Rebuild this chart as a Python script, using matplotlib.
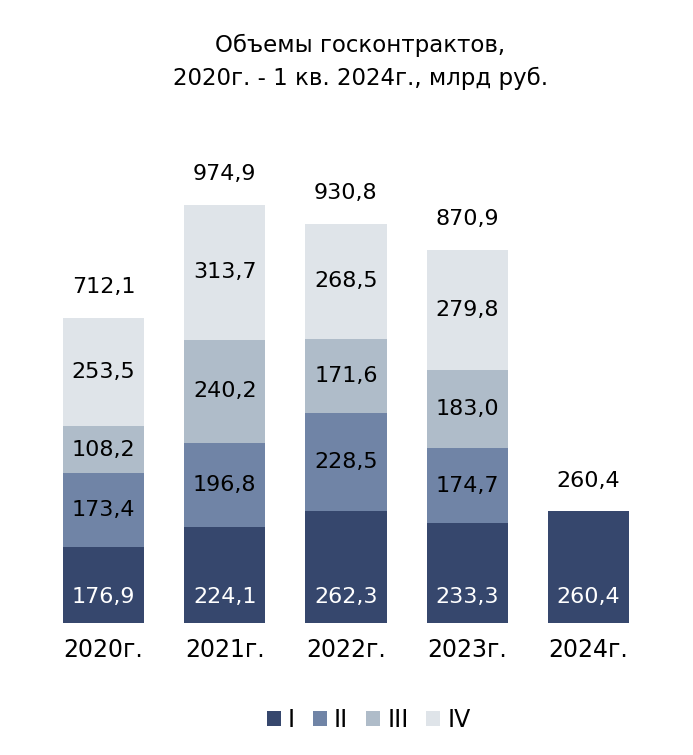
import matplotlib
matplotlib.use("Agg")
import matplotlib.pyplot as plt
import numpy as np

years = ["2020г.", "2021г.", "2022г.", "2023г.", "2024г."]
q1 = [176.9, 224.1, 262.3, 233.3, 260.4]
q2 = [173.4, 196.8, 228.5, 174.7, 0]
q3 = [108.2, 240.2, 171.6, 183.0, 0]
q4 = [253.5, 313.7, 268.5, 279.8, 0]
totals = [712.1, 974.9, 930.8, 870.9, 260.4]
series_names = ["I", "II", "III", "IV"]
colors = ["#36476d", "#7084a6", "#afbcc9", "#dfe4e9"]
text_colors = ["white", "black", "black", "black"]

def fmt(v):
    return f"{v:.1f}".replace(".", ",")

plt.rcParams["font.family"] = ["DejaVu Sans"]
fig = plt.figure(figsize=(6.93, 7.55), dpi=100)
ax = fig.add_axes([0.0619, 0.1748, 0.8745, 0.568])
x = np.arange(len(years))
width = 0.67
bottom = np.zeros(len(years))
for i, (vals, c, tc, name) in enumerate(zip([q1, q2, q3, q4], colors, text_colors, series_names)):
    vals = np.array(vals)
    ax.bar(x, vals, width, bottom=bottom, color=c, label=name, linewidth=0)
    for xi, v, b in zip(x, vals, bottom):
        if v > 0:
            ypos = 60 if i == 0 else b + v / 2
            ax.text(xi, ypos, fmt(v), ha="center", va="center", color=tc, fontsize=16)
    bottom = bottom + vals
for xi, t in zip(x, totals):
    ax.text(xi, t + 48, fmt(t), ha="center", va="bottom", color="black", fontsize=16)

ax.set_xlim(-0.5, 4.5)
ax.set_ylim(0, 1000)
ax.set_xticks(x)
ax.set_xticklabels(years, fontsize=17)
ax.tick_params(axis="x", length=0, pad=11)
ax.set_yticks([])
for s in ax.spines.values():
    s.set_visible(False)

fig.text(0.52, 0.955, "Объемы госконтрактов,\n2020г. - 1 кв. 2024г., млрд руб.",
         ha="center", va="top", fontsize=16.5, linespacing=1.55)

leg = fig.legend(loc="center", bbox_to_anchor=(0.532, 0.046), ncol=4, frameon=False,
                 fontsize=17, handlelength=0.6, handleheight=0.6, handletextpad=0.3,
                 columnspacing=0.75)

fig.savefig("out.png", dpi=100)
